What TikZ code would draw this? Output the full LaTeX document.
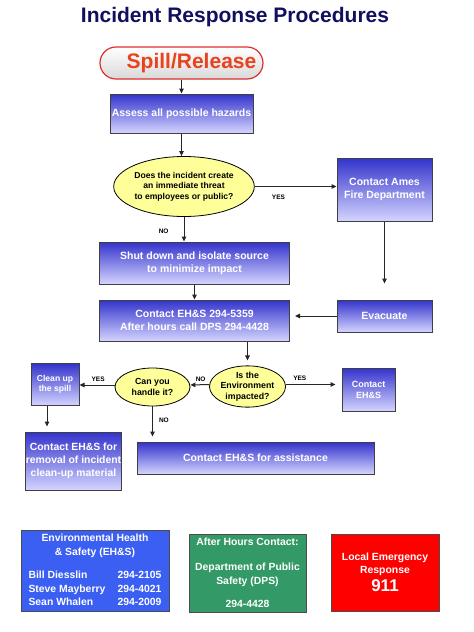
\documentclass[tikz,border=0pt]{standalone}
\usepackage{fontspec}
\setmainfont{Liberation Sans}
\usetikzlibrary{arrows.meta,shapes.geometric}
\definecolor{cTitle}{HTML}{10105E}
\definecolor{cSpill}{HTML}{E8421E}
\definecolor{cSpillEdge}{HTML}{E03030}
\definecolor{cStepTop}{HTML}{3333CC}
\definecolor{cStepBot}{HTML}{D4D4FF}
\definecolor{cAsk}{HTML}{FFFF99}
\definecolor{cEHS}{HTML}{3A5FF2}
\definecolor{cDPS}{HTML}{339966}
\definecolor{cLocal}{HTML}{FF0000}

\begin{document}
\begin{tikzpicture}[
  x=1pt, y=-1pt,
  >={Triangle[length=5pt,width=4.5pt]},
  spill/.style={draw=cSpillEdge, line width=1.2pt, rounded corners=16pt,
              top color=white, bottom color=black!15, text=cSpill,
              font=\bfseries\fontsize{21}{24}\selectfont, inner sep=0pt},
  stepbox/.style={draw=black!75, line width=1pt, top color=cStepTop, bottom color=cStepBot,
              text=white, align=center, inner sep=1pt,
              font=\bfseries\fontsize{10.5}{13}\selectfont},
  ask/.style={ellipse, draw=black, line width=0.8pt, fill=cAsk, align=center, inner sep=0pt,
              font=\bfseries\fontsize{8.6}{10.7}\selectfont},
  infobox/.style={draw=black!70, line width=0.8pt, text=white, align=center, inner sep=2pt,
              font=\bfseries\fontsize{10.4}{13.5}\selectfont},
  flow/.style={->, line width=1pt, draw=black!85},
  lbl/.style={font=\bfseries\fontsize{6.5}{7}\selectfont, text=black, inner sep=1pt},
]
\useasboundingbox (0,0) rectangle (474,632);

% ---- title and start ----
\node[font=\bfseries\fontsize{21}{24}\selectfont, text=cTitle] (title) at (235,17) {Incident Response Procedures};
\node[spill, minimum width=163pt, minimum height=32pt] (spill) at (181.5,63) {\hspace*{20pt}Spill/Release};

% ---- main column ----
\node[stepbox, minimum width=143pt, minimum height=39pt] (assess) at (181.5,113.5) {Assess all possible hazards};
\node[ask, minimum width=138pt, minimum height=60pt] (threat) at (184,186.5)
  {Does the incident create\\ an immediate threat\\ to employees or public?};
\node[stepbox, minimum width=95pt, minimum height=63pt] (ames) at (384.5,189.5)
  {Contact Ames\\ Fire Department};
\node[stepbox, minimum width=190pt, minimum height=42pt] (shut) at (194.5,263)
  {Shut down and isolate source\\ to minimize impact};
\node[stepbox, minimum width=190pt, minimum height=41pt] (ehs) at (194.5,320.5)
  {Contact EH\&S 294-5359\\ After hours call DPS 294-4428};
\node[stepbox, minimum width=95pt, minimum height=32pt] (evac) at (384.5,316) {Evacuate};

% ---- environment branch ----
\node[ask, minimum width=75pt, minimum height=37pt, font=\bfseries\fontsize{8.8}{10.5}\selectfont] (env) at (247.5,386.5)
  {Is the\\ Environment\\ impacted?};
\node[ask, minimum width=75pt, minimum height=38pt, font=\bfseries\fontsize{8.8}{11}\selectfont] (handle) at (152.5,387)
  {Can you\\ handle it?};
\node[stepbox, minimum width=53pt, minimum height=43pt, font=\bfseries\fontsize{9}{11}\selectfont] (ehsmall) at (368.5,389.5)
  {Contact\\ EH\&S};
\node[stepbox, minimum width=48pt, minimum height=42pt, font=\bfseries\fontsize{8.6}{10.5}\selectfont] (clean) at (55,384.5)
  {Clean up\\ the spill};
\node[stepbox, minimum width=95pt, minimum height=58pt, inner sep=0pt, font=\bfseries\fontsize{10.4}{12.8}\selectfont] (removal) at (73.5,461)
  {Contact EH\&S for\\ removal of incident\\ clean-up material};
\node[stepbox, minimum width=237pt, minimum height=32pt] (assist) at (255.5,458) {Contact EH\&S for assistance};

\draw[flow] (spill) -- (assess);
\draw[flow] (assess.south) -- (assess.south |- threat.north);
\draw[flow] (threat.east) -- (threat.east -| ames.west) node[lbl, pos=0.29, below=7pt] {YES};
\draw[flow] (threat.south) -- (threat.south |- shut.north) node[lbl, pos=0.6, left=14pt] {NO};
\draw[flow, shorten >=16pt] (ames.south) -- (ames.south |- evac.north);
\draw[flow] (shut) -- (ehs);
\draw[flow, shorten >=5pt] (evac.west) -- (evac.west -| ehs.east);
\draw[flow, shorten >=5pt] (ehs.south -| env.north) -- (env.north);
\draw[flow, shorten >=6pt] ([yshift=2pt]env.east) -- ([yshift=2pt]env.east -| ehsmall.west) node[lbl, pos=0.25, above=2pt] {YES};
\draw[flow] ([yshift=2pt]env.west) -- ([yshift=2pt]handle.east) node[lbl, pos=0.45, above=2pt] {NO};
\draw[flow] ([yshift=2pt]handle.west) -- ([yshift=2pt]handle.west -| clean.east) node[lbl, pos=0.47, above=2pt] {YES};
\draw[flow, shorten >=5pt] ([xshift=-8pt]clean.south) -- ([xshift=-8pt]clean.south |- removal.north);
\draw[flow, shorten >=5pt] (handle.south) -- (handle.south |- assist.north) node[lbl, pos=0.4, right=5pt] {NO};

% ---- contact cards ----
\node[infobox, fill=cEHS, minimum width=148pt, minimum height=78pt] (ehsinfo) at (95,571)
  {\begin{tabular}{@{}p{89pt}@{}r@{}}
   \multicolumn{2}{@{}c@{}}{Environmental Health}\\
   \multicolumn{2}{@{}c@{}}{\& Safety (EH\&S)}\\[10pt]
   Bill Diesslin & 294-2105\\
   Steve Mayberry & 294-4021\\
   Sean Whalen & 294-2009
   \end{tabular}};
\node[infobox, fill=cDPS, minimum width=117pt, minimum height=78pt] (dps) at (247.5,573)
  {After Hours Contact:\\[11.5pt] Department of Public\\ Safety (DPS)\\[9.5pt] 294-4428};
\node[infobox, fill=cLocal, minimum width=108pt, minimum height=77pt] (local) at (385,572.5)
  {Local Emergency\\ Response\\[3pt] {\fontsize{17}{17}\selectfont 911}};
\end{tikzpicture}
\end{document}
